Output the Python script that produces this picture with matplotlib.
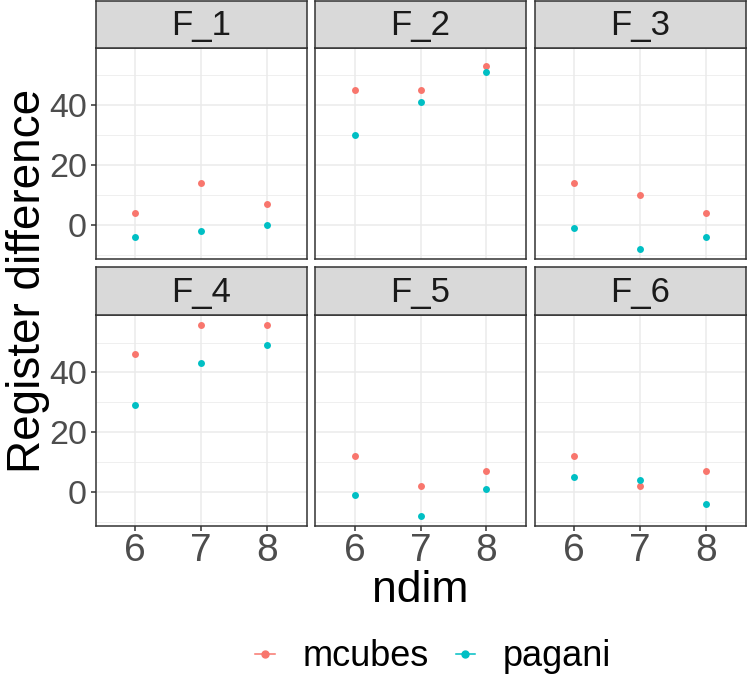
import matplotlib
matplotlib.use("Agg")
import matplotlib.pyplot as plt
from matplotlib.lines import Line2D

plt.rcParams['font.family'] = ['Liberation Sans', 'DejaVu Sans']

ndim = [6, 7, 8]
facets = ["F_1", "F_2", "F_3", "F_4", "F_5", "F_6"]
mcubes = {
    "F_1": [4, 14, 7],
    "F_2": [45, 45, 53],
    "F_3": [14, 10, 4],
    "F_4": [46, 56, 56],
    "F_5": [12, 2, 7],
    "F_6": [12, 2, 7],
}
pagani = {
    "F_1": [-4, -2, 0],
    "F_2": [30, 41, 51],
    "F_3": [-1, -8, -4],
    "F_4": [29, 43, 49],
    "F_5": [-1, -8, 1],
    "F_6": [5, 4, -4],
}
series_names = ["mcubes", "pagani"]
colors = {"mcubes": "#F8766D", "pagani": "#00BFC4"}
yticks = [0, 20, 40]
yminor = [-10, 10, 30, 50]

W, H = 747, 679
fig = plt.figure(figsize=(W / 100, H / 100), dpi=100)

cols = [(95.5, 306.5), (315, 526), (534.5, 746)]
rows = [((1, 47.5), (47.5, 258.5)), ((267, 315), (315, 525.5))]

allv = [v for d in (mcubes, pagani) for f in facets for v in d[f]]
lo, hi = min(allv), max(allv)
pad = (hi - lo) * 0.05
ylim = (lo - pad, hi + pad)

def fax(x0, x1, y0, y1):
    return fig.add_axes([x0 / W, 1 - y1 / H, (x1 - x0) / W, (y1 - y0) / H])

for i, f in enumerate(facets):
    r, c = divmod(i, 3)
    (sy0, sy1), (py0, py1) = rows[r]
    x0, x1 = cols[c]
    ax = fax(x0, x1, py0, py1)
    ax.set_facecolor("white")
    xs = list(range(1, len(ndim) + 1))
    for yv in yminor:
        ax.axhline(yv, color="#EBEBEB", lw=0.55, zorder=0)
    for yv in yticks:
        ax.axhline(yv, color="#EBEBEB", lw=1.1, zorder=0)
    for xv in xs:
        ax.axvline(xv, color="#EBEBEB", lw=1.1, zorder=0)
    for s, d in (("mcubes", mcubes), ("pagani", pagani)):
        ax.scatter(xs, d[f], s=25, color=colors[s], zorder=3, linewidths=0)
    ax.set_xlim(0.4, len(ndim) + 0.6)
    ax.set_ylim(*ylim)
    ax.set_xticks(xs)
    ax.set_yticks(yticks)
    for sp in ax.spines.values():
        sp.set_color("#333333")
        sp.set_linewidth(1.1)
    ax.tick_params(axis="both", color="#333333", length=3.6, width=1.1,
                   labelcolor="#4D4D4D")
    ax.tick_params(axis="y", labelsize=24.5, pad=2.5)
    ax.tick_params(axis="x", labelsize=28, pad=1.5)
    if c == 0:
        ax.set_yticklabels([str(v) for v in yticks])
    else:
        ax.tick_params(axis="y", length=0, labelleft=False)
    if r == 1:
        ax.set_xticklabels([str(v) for v in ndim])
    else:
        ax.tick_params(axis="x", length=0, labelbottom=False)
    # strip
    sax = fax(x0, x1, sy0, sy1)
    sax.set_facecolor("#D9D9D9")
    sax.set_xticks([]); sax.set_yticks([])
    for sp in sax.spines.values():
        sp.set_color("#333333")
        sp.set_linewidth(1.1)
    sax.text(0.5, 0.47, f, ha="center", va="center", fontsize=25,
             color="#1A1A1A", transform=sax.transAxes)

fig.text(28 / W, 1 - 281 / H, "Register difference", rotation=90,
         ha="center", va="center", fontsize=33, color="black")
fig.text(420 / W, 1 - 590 / H, "ndim", ha="center", va="center",
         fontsize=32, color="black")

handles = [Line2D([0], [0], color=colors[s], marker="o", markersize=5,
                  lw=1.1) for s in series_names]
fig.legend(handles, series_names, loc="center", ncol=2,
           bbox_to_anchor=(433 / W, 1 - 657 / H), frameon=False,
           fontsize=26, handlelength=0.55, handletextpad=0.75,
           columnspacing=0.75)

fig.savefig("out.png", dpi=100, facecolor="white")
